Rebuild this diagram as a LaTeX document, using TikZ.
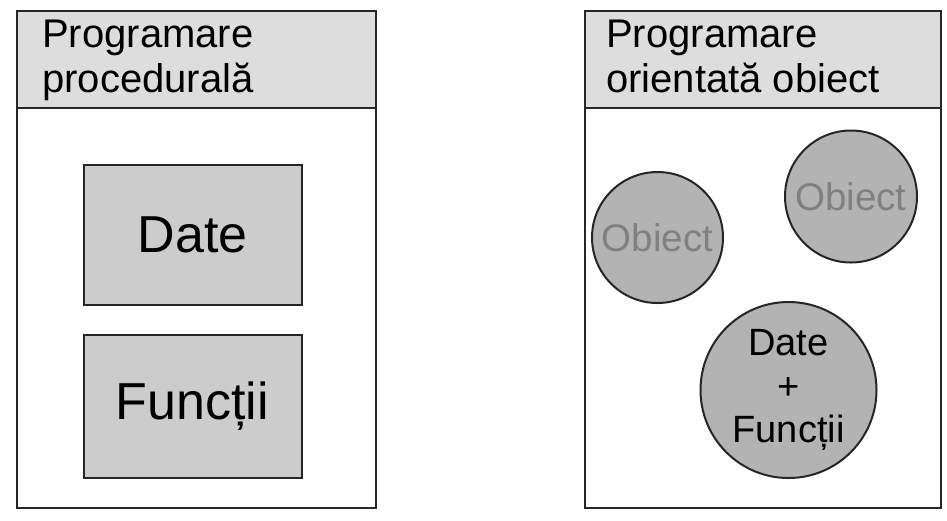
\documentclass[tikz,border=0pt]{standalone}
\usepackage{fontspec}
\setmainfont{Liberation Sans}
\definecolor{headgray}{HTML}{DDDDDD}
\definecolor{boxgray}{HTML}{CCCCCC}
\definecolor{circgray}{HTML}{B3B3B3}
\definecolor{objtext}{HTML}{808080}
\begin{document}
\begin{tikzpicture}[x=1pt,y=-1pt,
  panel/.style={draw=black!85,line width=2pt},
  header/.style={draw=black!85,line width=2pt,fill=headgray},
  headtext/.style={anchor=base west,inner sep=0pt,align=left,font=\fontsize{40}{45}\selectfont},
  databox/.style={draw=black!85,line width=2pt,fill=boxgray,minimum width=218pt,minimum height=140pt,inner sep=0pt,font=\fontsize{52}{60}\selectfont},
  obj/.style={circle,draw=black!85,line width=2pt,fill=circgray,inner sep=0pt},
  objtxt/.style={text=objtext,font=\fontsize{38.5}{43.5}\selectfont}
]
\useasboundingbox (0,0) rectangle (947,520);
% left panel
\draw[panel,fill=white] (17,11) rectangle (376,508);
\draw[header] (17,11) rectangle (376,108);
\node[headtext] (lt) at (42,92) {Programare\\procedurală};
\node[databox] (date) at (192.5,234.5) {Date};
\node[databox,minimum height=143pt] (func) at (192.5,406.5) {Funcții};
% right panel
\draw[panel,fill=white] (585,11) rectangle (941,508);
\draw[header] (585,11) rectangle (941,108);
\node[headtext] (rt) at (606,92) {Programare\\orientată obiect};
\node[obj,minimum size=131pt,objtxt] (o1) at (657.5,237.5) {Obiect};
\node[obj,minimum size=132pt,objtxt] (o2) at (851,196.5) {Obiect};
\node[obj,minimum size=176pt,align=center,font=\fontsize{38}{43.5}\selectfont] (o3) at (788.5,390) {Date\\+\\Funcții};
\end{tikzpicture}
\end{document}
